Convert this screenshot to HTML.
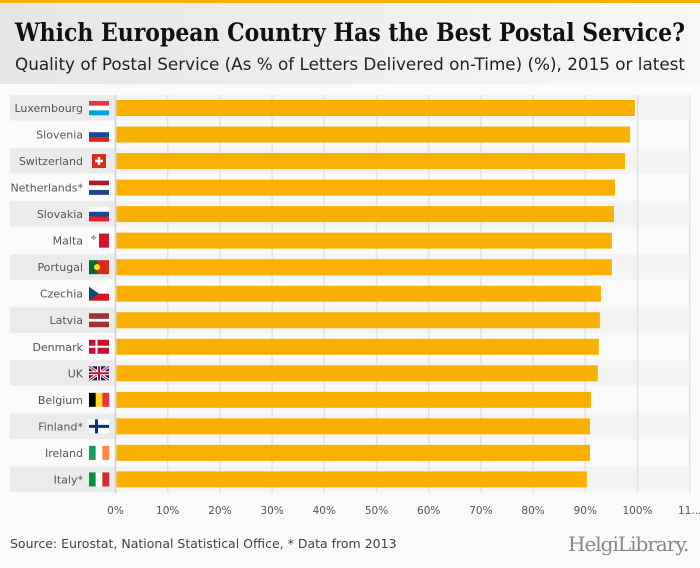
<!DOCTYPE html>
<html><head><meta charset="utf-8"><style>
html,body{margin:0;width:700px;height:568px;overflow:hidden;}
body{background:#fafafa;font-family:"DejaVu Sans","Liberation Sans",sans-serif;position:relative}
#hdr{position:absolute;left:0;top:0;width:700px;height:84px;background:linear-gradient(90deg,#e6e6e6,#f7f7f7);border-top:3px solid #f9b200;box-sizing:border-box;}
#src{position:absolute;left:10px;top:536px;font-size:12.5px;color:#444;white-space:nowrap}
#logo{position:absolute;left:568px;top:532px;font:20px "DejaVu Serif",serif;color:#888;letter-spacing:-1px;white-space:nowrap;line-height:24px}
svg{position:absolute;left:0;top:0}
</style></head><body>
<div id="hdr"></div>
<svg id="chart" width="700" height="568">
<text x="15" y="41" textLength="670" lengthAdjust="spacingAndGlyphs" font-family="DejaVu Serif, Liberation Serif, serif" font-weight="bold" font-size="25" fill="#111">Which European Country Has the Best Postal Service?</text>
<text x="15" y="70" textLength="670" lengthAdjust="spacingAndGlyphs" font-size="16.5" fill="#222">Quality of Postal Service (As % of Letters Delivered on-Time) (%), 2015 or latest</text>
</svg>
<div id="src">Source: Eurostat, National Statistical Office, * Data from 2013</div>
<div id="logo">HelgiLibrary.</div>
<script>
const categories=["Luxembourg","Slovenia","Switzerland","Netherlands*","Slovakia","Malta","Portugal","Czechia","Latvia","Denmark","UK","Belgium","Finland*","Ireland","Italy*"];
const values=[99.5,98.6,97.6,95.7,95.5,95.1,95.1,93.0,92.8,92.6,92.4,91.1,90.9,90.9,90.3];
const tickValues=[0,10,20,30,40,50,60,70,80,90,100,110];
const tickLabels=["0%","10%","20%","30%","40%","50%","60%","70%","80%","90%","100%","11..."];
const flags=[
 [["h","#ef3340","#fff","#00a3e0"]],[["h","#fff","#0c4da2","#e0241c"]],[["ch"]],[["h","#ae1c28","#fff","#21468b"]],[["h","#fff","#0b4ea2","#ee1c25"]],
 [["v2","#fff","#cf142b"]],[["pt"]],[["cz"]],[["lv"]],[["dk"]],[["uk"]],[["v","#000","#fdda24","#ef3340"]],[["fi"]],[["v","#169b62","#fff","#ff883e"]],[["v","#009246","#fff","#ce2b37"]]
];
const svg=document.getElementById('chart');const NS='http://www.w3.org/2000/svg';
function mk(t,a,p){const e=document.createElementNS(NS,t);for(const k in a)e.setAttribute(k,a[k]);(p||svg).appendChild(e);return e;}
const x0=115.5,pxPer=5.22,y0=95,rowH=26.53;
const xs=v=>x0+v*pxPer;const ys=i=>y0+i*rowH;
categories.forEach((c,i)=>{
 if(i%2===0){const b=mk('rect',{x:10,y:ys(i),width:105,height:rowH-1,fill:'#ebebeb'});
  mk('rect',{x:116,y:ys(i),width:575,height:rowH-1,fill:'#f4f4f4'});}
});
tickValues.forEach((v,i)=>{
 const l=mk('line',{x1:xs(v),x2:xs(v),y1:95,y2:493,stroke:i===0?'#c8d0e0':'#e3e3e3','stroke-width':1.5});
 
 const t=mk('text',{x:xs(v),y:514,'text-anchor':'middle','font-size':10.5,fill:'#555'});t.textContent=tickLabels[i];
 
});
categories.forEach((c,i)=>{
 const y=ys(i);
 const t=mk('text',{x:83,y:y+17,'text-anchor':'end','font-size':11,fill:'#555'});t.textContent=c;
 
 const r=mk('rect',{x:xs(0)+1,y:y+5,width:xs(values[i])-xs(0)-1,height:16,fill:'#fab000'});
 
 const g=mk('g',{transform:`translate(89,${y+6})`});
 const f=flags[i][0],W=20,H=14;
 if(f[0]==='h'){for(let k=0;k<3;k++)mk('rect',{x:0,y:k*H/3,width:W,height:H/3+.3,fill:f[k+1]},g);}
 else if(f[0]==='v'){for(let k=0;k<3;k++)mk('rect',{x:k*W/3,y:0,width:W/3+.3,height:H,fill:f[k+1]},g);}
 else if(f[0]==='v2'){mk('rect',{x:0,y:0,width:10,height:H,fill:'#fff'},g);mk('rect',{x:10,y:0,width:10,height:H,fill:'#cf142b'},g);mk('path',{d:'M2 4h5M4.5 1.5v5',stroke:'#999','stroke-width':1.5},g);}
 else if(f[0]==='ch'){mk('rect',{x:3,y:0,width:14,height:H,fill:'#da291c'},g);mk('path',{d:'M10 3v8M6 7h8',stroke:'#fff','stroke-width':2.5},g);}
 else if(f[0]==='pt'){mk('rect',{x:0,y:0,width:8,height:H,fill:'#046a38'},g);mk('rect',{x:8,y:0,width:12,height:H,fill:'#da291c'},g);mk('circle',{cx:8,cy:7,r:3,fill:'#ffe900'},g);}
 else if(f[0]==='cz'){mk('rect',{x:0,y:0,width:W,height:7,fill:'#fff'},g);mk('rect',{x:0,y:7,width:W,height:7,fill:'#d7141a'},g);mk('path',{d:'M0 0L10 7L0 14Z',fill:'#11457e'},g);}
 else if(f[0]==='lv'){mk('rect',{x:0,y:0,width:W,height:H,fill:'#9e3039'},g);mk('rect',{x:0,y:5.6,width:W,height:2.8,fill:'#fff'},g);}
 else if(f[0]==='dk'){mk('rect',{x:0,y:0,width:W,height:H,fill:'#c8102e'},g);mk('path',{d:'M7.5 0v14M0 7h20',stroke:'#fff','stroke-width':2},g);}
 else if(f[0]==='fi'){mk('rect',{x:0,y:0,width:W,height:H,fill:'#fff'},g);mk('path',{d:'M7.5 0v14M0 7h20',stroke:'#003580','stroke-width':3},g);}
 else if(f[0]==='uk'){mk('rect',{x:0,y:0,width:W,height:H,fill:'#012169'},g);mk('path',{d:'M0 0L20 14M20 0L0 14',stroke:'#fff','stroke-width':3},g);mk('path',{d:'M0 0L20 14M20 0L0 14',stroke:'#c8102e','stroke-width':1},g);mk('path',{d:'M10 0v14M0 7h20',stroke:'#fff','stroke-width':4},g);mk('path',{d:'M10 0v14M0 7h20',stroke:'#c8102e','stroke-width':2},g);}
});
</script>
</body></html>
